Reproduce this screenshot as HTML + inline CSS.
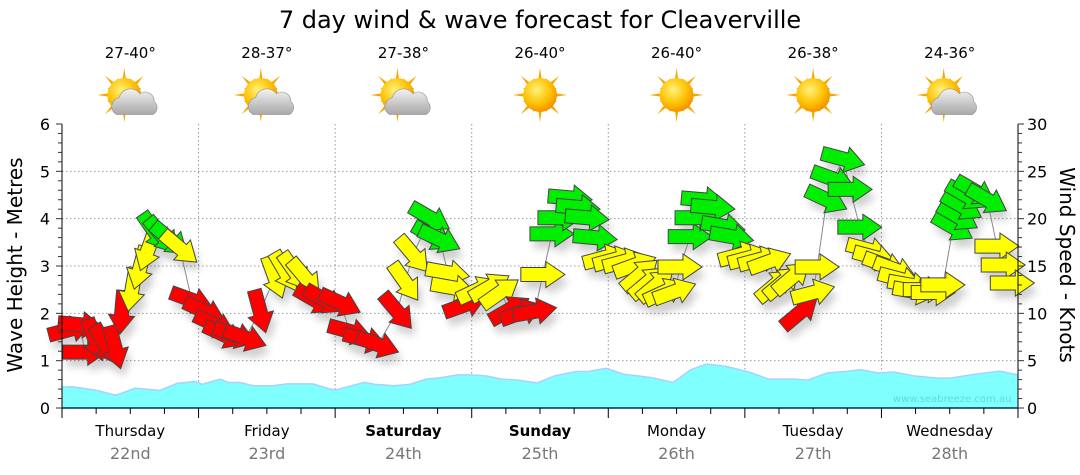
<!DOCTYPE html>
<html><head><meta charset="utf-8"><style>
body{margin:0;background:#fff;}
svg{display:block;font-family:"DejaVu Sans","Liberation Sans",sans-serif;}
</style></head><body>
<svg id="c" width="1080" height="475" viewBox="0 0 1080 475">
<defs>
<radialGradient id="sunG" cx="0.4" cy="0.35" r="0.7"><stop offset="0" stop-color="#fff27a"/><stop offset="0.6" stop-color="#ffc000"/><stop offset="1" stop-color="#f08a00"/></radialGradient>
<linearGradient id="cloudG" x1="0" y1="0" x2="0" y2="1"><stop offset="0" stop-color="#f2f2f2"/><stop offset="1" stop-color="#a8a8a8"/></linearGradient>
<filter id="sh" x="-50%" y="-50%" width="200%" height="200%"><feGaussianBlur stdDeviation="4"/></filter>
</defs>
<text x="540" y="28" text-anchor="middle" font-size="24" fill="#000">7 day wind &amp; wave forecast for Cleaverville</text>
<g id="grid"></g>
<g id="wave"></g>
<g id="shadows" opacity="0.18"></g>
<g id="arrows"></g>
<g id="axes"></g>
<text x="893" y="402" font-size="10" fill="#5fd8e0">www.seabreeze.com.au</text>
<text transform="translate(22,265) rotate(-90)" text-anchor="middle" font-size="20">Wave Height - Metres</text>
<text transform="translate(1060,265) rotate(90)" text-anchor="middle" font-size="20">Wind Speed - Knots</text>
</svg>
<script>
const dayNames=["Thursday","Friday","Saturday","Sunday","Monday","Tuesday","Wednesday"];
const dayDates=["22nd","23rd","24th","25th","26th","27th","28th"];
const boldDays=[false,false,true,true,false,false,false];
const temps=["27-40°","28-37°","27-38°","26-40°","26-40°","26-38°","24-36°"];
const cloudy=[true,true,true,false,false,false,true];
const waveHours=[0,1.9,6.2,9.0,9.8,12.8,17.2,20.2,23.4,24.6,27.8,29.2,31.3,33.6,37.1,39.5,44.1,47.1,48.1,53.1,55.0,58.3,61.1,64.0,66.4,69.6,72.0,74.5,77.3,80.1,83.5,86.6,90.3,92.3,95.6,98.8,101.2,103.7,107.4,110.5,113.3,116.7,120.7,124.2,128.8,131.1,134.4,137.6,140.4,143.4,146.2,149.7,153.8,155.9,160.3,164.8,167.6,168];
const waveHeights=[0.44,0.45,0.37,0.28,0.28,0.42,0.37,0.52,0.56,0.5,0.61,0.54,0.54,0.47,0.47,0.51,0.51,0.40,0.38,0.54,0.5,0.47,0.5,0.61,0.64,0.70,0.70,0.68,0.61,0.59,0.53,0.68,0.77,0.77,0.84,0.71,0.68,0.64,0.54,0.81,0.93,0.88,0.76,0.61,0.61,0.59,0.74,0.77,0.81,0.74,0.76,0.68,0.63,0.63,0.71,0.78,0.71,0.70];
const windHours=[1.4,3.2,4.0,5.8,7.6,9.3,10.5,12.3,13.7,15.1,16.3,17.6,19.0,20.7,22.8,25.1,26.9,28.6,30.4,32.2,34.8,37.4,39.2,40.9,42.7,44.5,46.2,48.9,50.6,53.3,55.5,58.9,60.3,61.7,64.7,65.2,66.4,67.8,68.7,70.8,73.1,75.2,77.0,78.7,80.8,83.1,84.5,86.1,87.5,89.3,90.7,92.3,93.7,95.4,97.2,98.9,100.7,101.6,103.0,104.4,106.0,107.7,108.6,110.4,111.6,112.7,114.4,116.2,117.7,119.2,120.9,122.7,124.4,125.3,126.7,128.3,129.7,132.0,132.7,134.4,135.5,137.3,138.5,140.2,141.7,142.9,144.6,146.4,147.3,149.0,149.9,151.7,153.1,154.8,156.6,157.5,158.2,159.0,160.5,162.6,164.3,165.4,167.0];
const windSpeeds=[8.3,8.8,5.9,7.2,6.7,6.4,10.1,12.5,14.8,16.7,18.6,18.2,17.8,16.9,11.4,10.2,8.8,7.7,7.7,7.4,10.2,13.8,14.4,14.4,13.8,11.4,11.4,11.1,8.1,7.2,6.7,10.2,13.3,16.2,20.1,18.1,17.8,14.3,12.7,10.9,12.5,12.8,12.2,10.4,10.1,10.2,14.1,18.4,20.1,22.2,21.2,20.1,18.0,15.9,15.7,15.5,15.1,14.1,13.3,13.0,12.3,12.3,14.9,18.1,20.1,22.0,21.2,19.2,18.1,16.2,15.9,15.7,15.5,13.0,13.3,13.8,10.1,12.2,14.9,22.0,24.2,26.3,23.1,19.1,16.7,15.9,15.1,14.6,13.6,13.0,12.3,12.5,12.2,13.0,19.1,20.2,21.3,22.4,22.9,22.0,17.1,15.1,13.2];
const windDirs=[-15,5,0,70,60,75,95,100,105,110,55,50,40,40,20,25,25,25,20,20,75,70,60,55,50,30,30,25,15,15,20,50,55,50,30,30,25,10,10,-20,-25,-30,-35,-30,-20,-10,0,0,0,5,5,5,5,-15,-15,-15,-20,-40,-40,-40,-25,-20,0,0,0,5,5,10,10,-15,-15,-15,-20,-40,-40,-40,-40,-15,0,25,20,15,0,0,15,15,20,20,15,10,10,0,0,0,30,30,30,30,30,30,0,0,0];
const leftTicks=[0,1,2,3,4,5,6];
const rightTicks=[0,5,10,15,20,25,30];

const NS="http://www.w3.org/2000/svg";
const X0=62,X1=1018,Y0=408,Y1=124;
const xH=h=>X0+(X1-X0)*h/168;
const yM=m=>Y0-(Y0-Y1)*m/6;
const yK=k=>Y0-(Y0-Y1)*k/30;
function mk(tag,attrs,parent){const e=document.createElementNS(NS,tag);for(const k in attrs)e.setAttribute(k,attrs[k]);parent.appendChild(e);return e;}
const svg=document.getElementById('c');
const grid=document.getElementById('grid'),axes=document.getElementById('axes');
for(let m=1;m<=5;m++){const l=mk('line',{x1:X0,x2:X1,y1:yM(m),y2:yM(m),stroke:'#999','stroke-dasharray':'1.5,2.5','stroke-width':1},grid);

}
for(let d=1;d<7;d++){const l=mk('line',{x1:xH(d*24),x2:xH(d*24),y1:Y1,y2:Y0,stroke:'#999','stroke-dasharray':'1.5,2.5','stroke-width':1},grid);

}
let pts=waveHours.map((h,i)=>xH(h)+','+yM(waveHeights[i])).join(' ');
const wa=mk('polygon',{points:X0+','+Y0+' '+pts+' '+X1+','+Y0,fill:'#80ffff',stroke:'none'},document.getElementById('wave'));


const wl=mk('polyline',{points:pts,fill:'none',stroke:'#a6d2ff','stroke-width':1.5},document.getElementById('wave'));


const arrG=document.getElementById('arrows'),shG=document.getElementById('shadows');
const cl=mk('polyline',{points:windHours.map((h,i)=>xH(h)+','+yK(windSpeeds[i])).join(' '),fill:'none',stroke:'#888','stroke-width':1},arrG);


const ARROW="M-22,-7 L3,-7 L3,-13 L22,0 L3,13 L3,7 L-22,7 Z";
windHours.forEach((h,i)=>{
  const s=windSpeeds[i];
  const col=s<12?'#ff0000':(s<17.5?'#ffff00':'#00ee00');
  const tr='translate('+xH(h)+','+yK(s)+') rotate('+windDirs[i]+')';
  mk('path',{d:ARROW,transform:'translate(4,8) '+tr,fill:'#000',filter:'url(#sh)'},shG);
  const a=mk('path',{d:ARROW,transform:tr,fill:col,stroke:'#444','stroke-width':1},arrG);
  
  
});
mk('line',{x1:X0,x2:X0,y1:Y1,y2:Y0,stroke:'#000'},axes);
mk('line',{x1:X1,x2:X1,y1:Y1,y2:Y0,stroke:'#000'},axes);
mk('line',{x1:X0,x2:X1,y1:Y0,y2:Y0,stroke:'#003050','stroke-width':1.5},axes);
for(let m=0;m<=6.001;m+=0.2){const maj=Math.abs(m-Math.round(m))<0.01;mk('line',{x1:X0-(maj?6:4),x2:X0,y1:yM(m),y2:yM(m),stroke:'#333'},axes);}
for(let k=0;k<=30;k++){const maj=k%5==0;mk('line',{x1:X1,x2:X1+(maj?6:4),y1:yK(k),y2:yK(k),stroke:'#333'},axes);}
leftTicks.forEach(m=>{const t=mk('text',{x:50,y:yM(m)+6,'text-anchor':'end','font-size':16},axes);t.textContent=m;

});
rightTicks.forEach(k=>{const t=mk('text',{x:1027,y:yK(k)+6,'font-size':16},axes);t.textContent=k;

});
for(let h=0;h<=168;h+=6){const maj=h%24==0;mk('line',{x1:xH(h),x2:xH(h),y1:Y0,y2:Y0+(maj?10:6),stroke:'#000'},axes);}
function icon(cx,cy,cl,g){
  const S=1.3;
  const gg=mk('g',{transform:`translate(${cx},${cy}) scale(${S})`},g);
  for(let r=0;r<16;r++){const a=r*Math.PI/8,L=r%2?14:21;
    mk('polygon',{points:[[Math.cos(a)*L,Math.sin(a)*L],[Math.cos(a+0.13)*11,Math.sin(a+0.13)*11],[Math.cos(a-0.13)*11,Math.sin(a-0.13)*11]].map(p=>p.join(',')).join(' '),fill:'#f5a800'},gg);}
  mk('circle',{cx:0,cy:0,r:13,fill:'url(#sunG)'},gg);
  if(cl){const ox=8,oy=5;
    mk('path',{d:`M${ox-14},${oy+10} a7,7 0 0 1 2,-13 a9,9 0 0 1 16,-3 a7,7 0 0 1 11,6 a6,6 0 0 1 -1,10 Z`,fill:'url(#cloudG)',stroke:'#999','stroke-width':0.5},gg);}
}
for(let d=0;d<7;d++){
  const cx=xH(d*24+12);
  const n=mk('text',{x:cx,y:436,'text-anchor':'middle','font-size':15,'font-weight':boldDays[d]?'bold':'normal'},axes);n.textContent=dayNames[d];
  
  
  const dt=mk('text',{x:cx,y:459,'text-anchor':'middle','font-size':16,fill:'#777'},axes);dt.textContent=dayDates[d];
  
  
  const tp=mk('text',{x:cx,y:58,'text-anchor':'middle','font-size':15},svg);tp.textContent=temps[d];
  
  
  const g=mk('g',{},svg);
  
  
  icon(cx-6+(cloudy[d]?0:6),95,cloudy[d],g);
}
</script>
</body></html>
